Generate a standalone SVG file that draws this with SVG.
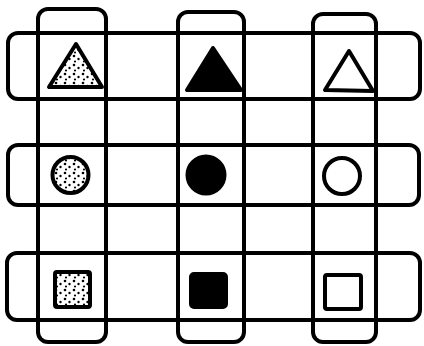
<svg xmlns="http://www.w3.org/2000/svg" width="424" height="346" viewBox="0 0 424 346">
<style>
.frame{fill:none;stroke:#000;stroke-width:4}
.shape{stroke:#000;stroke-width:4;stroke-linejoin:round}
.dot{fill:url(#stipple)}
.solid{fill:#000}
.open{fill:#fff}
</style>
<defs>
<pattern id="stipple" width="9" height="9" patternUnits="userSpaceOnUse">
<rect width="9" height="9" fill="#fff"/>
<circle cx="2" cy="2" r="1.3" fill="#000"/>
<circle cx="6.5" cy="5" r="1.2" fill="#000"/>
<circle cx="3" cy="7.5" r="1.1" fill="#000"/>
</pattern>
</defs>
<rect width="424" height="346" fill="#fff"/>
<g id="frames">
<rect id="row1" class="frame" x="8" y="33" width="412" height="66" rx="10"/>
<rect id="row2" class="frame" x="8" y="145" width="411" height="60" rx="10"/>
<rect id="row3" class="frame" x="7" y="253" width="413" height="67" rx="10"/>
<rect id="col1" class="frame" x="38" y="9" width="68" height="333" rx="10"/>
<rect id="col2" class="frame" x="178" y="12" width="66" height="330" rx="10"/>
<rect id="col3" class="frame" x="313" y="14" width="63" height="328" rx="10"/>
</g>
<g id="tri-dotted"><polygon class="shape dot" points="76,44 49,87 102,87"/></g>
<g id="tri-solid"><polygon class="shape solid" points="213,48 187,90 241,90"/></g>
<g id="tri-open"><polygon class="shape open" points="349,51 325,90 373,91"/></g>
<g id="circ-dotted"><circle class="shape dot" cx="70.5" cy="175" r="18"/></g>
<g id="circ-solid"><circle class="shape solid" cx="206" cy="175" r="18.5"/></g>
<g id="circ-open"><circle class="shape open" cx="342" cy="176" r="18"/></g>
<g id="sq-dotted"><rect class="shape dot" x="55" y="272" width="35" height="35" rx="2"/></g>
<g id="sq-solid"><rect class="shape solid" x="191" y="274" width="35" height="33" rx="3"/></g>
<g id="sq-open"><rect class="shape open" x="325" y="275" width="36" height="34" rx="2"/></g>
</svg>
